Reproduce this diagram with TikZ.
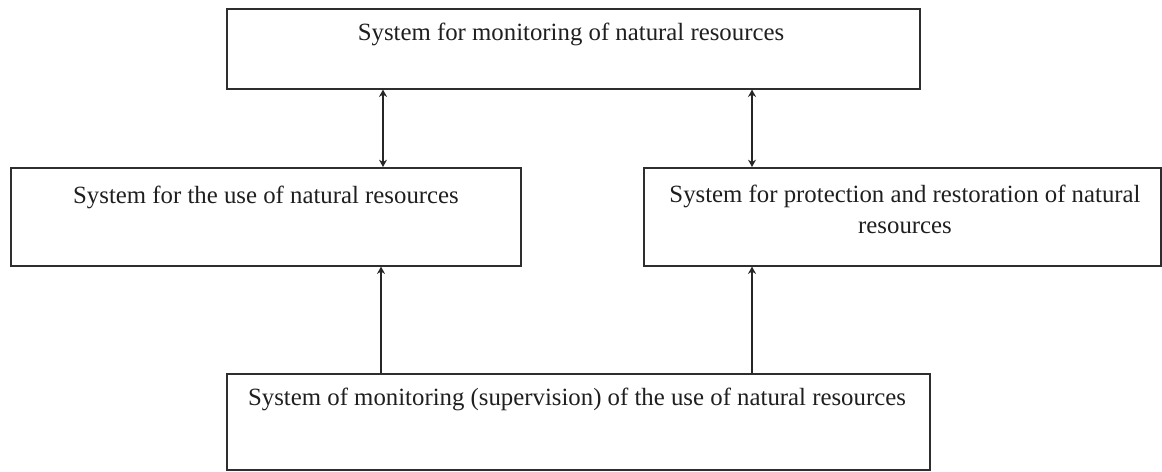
\documentclass[tikz,border=0pt]{standalone}
\usepackage{fontspec}
\setmainfont{Liberation Serif}
\usetikzlibrary{arrows.meta}
\begin{document}
\begin{tikzpicture}[x=0.75pt,y=-0.75pt,
  box/.style={draw=black!82, line width=1.2pt, inner sep=0pt, anchor=north west},
  txt/.style={inner sep=0pt, font=\fontsize{18.6}{23}\selectfont, text=black!88},
  conn/.style={draw=black!85, line width=0.95pt, -{Stealth[length=5.5pt,width=6pt,inset=1.8pt]}},
  biconn/.style={conn, {Stealth[length=5.5pt,width=6pt,inset=1.8pt]}-{Stealth[length=5.5pt,width=6pt,inset=1.8pt]}}]
\useasboundingbox (0,0) rectangle (1162,471);
% boxes
\node[box, minimum width=693*0.75pt, minimum height=80*0.75pt] (top) at (226,8) {};
\node[box, minimum width=510*0.75pt, minimum height=98*0.75pt] (left) at (10,167) {};
\node[box, minimum width=517*0.75pt, minimum height=98*0.75pt] (right) at (643,167) {};
\node[box, minimum width=703*0.75pt, minimum height=96*0.75pt] (bottom) at (226,373) {};
% texts
\node[txt, anchor=base] (toptext) at (571,40) {System for monitoring of natural resources};
\node[txt, anchor=base] (lefttext) at (266,203) {System for the use of natural resources};
\node[txt, anchor=north, align=center] (righttext) at (905,185) {System for protection and restoration of natural\\resources};
\node[txt, anchor=base] (bottomtext) at (577,405) {System of monitoring (supervision) of the use of natural resources};
% connector columns
\coordinate (xa) at (383,0);
\coordinate (xb) at (752,0);
\coordinate (xc) at (381,0);
% connectors
\draw[biconn] (top.south -| xa) -- (left.north -| xa);
\draw[biconn] (top.south -| xb) -- (right.north -| xb);
\draw[conn] (bottom.north -| xc) -- (left.south -| xc);
\draw[conn] (bottom.north -| xb) -- (right.south -| xb);
\end{tikzpicture}
\end{document}
